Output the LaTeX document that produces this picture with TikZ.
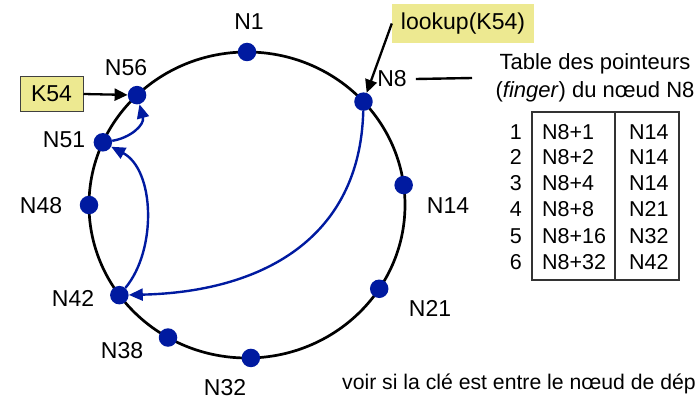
\documentclass[tikz,border=0pt]{standalone}
\usepackage{fontspec}
\setmainfont{Liberation Sans}
\usetikzlibrary{arrows.meta,calc}
\definecolor{dotblue}{RGB}{0,26,160}
\definecolor{boxyellow}{RGB}{237,233,145}
\begin{document}
\begin{tikzpicture}[x=1pt,y=-1pt,
 lab/.style={font=\fontsize{23}{27}\selectfont, inner sep=0pt},
 dot/.style={circle, fill=dotblue, minimum size=18.5pt, inner sep=0pt},
 ring/.style={line width=2.7pt},
 blk/.style={line width=2.3pt, -{Triangle[length=13pt,width=12pt]}},
 blu/.style={draw=dotblue, line width=2.4pt, -{Triangle[length=14pt,width=12pt]}},
 tab/.style={font=\fontsize{21.5}{25}\selectfont, inner sep=0pt},
 ybox/.style={fill=boxyellow, font=\fontsize{23}{27}\selectfont, inner ysep=0pt},
]
\useasboundingbox (0,0) rectangle (700,401);
\coordinate (C) at (247,205);
\draw[ring] (C) ellipse [x radius=158, y radius=153];
% nodes on the ring
\foreach \n/\a in {1/90, 8/42.5, 14/7.5, 21/-33.2, 32/-88.6, 38/-120, 42/-143.9, 48/180, 51/155.8, 56/134.1}
  \node[dot] (d\n) at ({247+158*cos(\a)},{205-153*sin(\a)}) {};
% labels
\node[lab] (l1)  at (249,22)  {N1};
\node[lab] (l8)  at (392,79)  {N8};
\node[lab] (l14) at (448,206) {N14};
\node[lab] (l21) at (430,308) {N21};
\node[lab] (l32) at (225,388) {N32};
\node[lab] (l38) at (122,351) {N38};
\node[lab] (l42) at (73,298)  {N42};
\node[lab] (l48) at (41,206)  {N48};
\node[lab] (l51) at (64,140)  {N51};
\node[lab] (l56) at (126,68)  {N56};
% boxes
\node[ybox, minimum height=39pt, minimum width=142pt, inner xsep=0pt] (look) at (463,23.5) {lookup(K54)};
\node[ybox, draw=black!75, line width=1pt, minimum height=34pt, minimum width=63pt, inner xsep=0pt] (k54) at (51.5,94) {K54};
\draw[blk] (look.west) -- (d8);
\draw[blk] (k54.east) -- (d56);
% finger routing
\draw[blu] (d8) .. controls (360,240) and (260,292) .. (d42);
\draw[blu] (d42) .. controls (157,250) and (155,170) .. (d51);
\draw[blu] (d51) .. controls (130,138) and (145,125) .. (d56);
% table title
\node[font=\fontsize{22}{28}\selectfont, align=center, inner sep=0pt] (title) at (595,78)
  {Table des pointeurs\\(\textit{finger}) du nœud N8};
\coordinate (ls) at ($(l8.east)+(9,0)$);
\coordinate (le) at (472,78);
\draw[line width=2.4pt] (ls) -- (le);
% table
\draw[line width=1.2pt, draw=black!80] (532,112) coordinate (tl) rectangle (679,280) coordinate (br);
\coordinate (ct) at (615,112);
\coordinate (cb) at (615,280);
\draw[line width=1.2pt, draw=black!80] (ct) -- (cb);
\foreach \i/\y/\a/\b in {1/132/N8+1/N14, 2/157/N8+2/N14, 3/183/N8+4/N14, 4/209/N8+8/N21, 5/236/N8+16/N32, 6/262/N8+32/N42}{
  \node[tab, anchor=east] (r\i) at (522,\y) {\i};
  \node[tab, anchor=west] (a\i) at (542,\y) {\a};
  \node[tab, anchor=west] (b\i) at (629,\y) {\b};
}
% bottom note
\node[font=\fontsize{21.2}{25}\selectfont, anchor=base west, inner sep=0pt] (note) at (342,389)
  {voir si la clé est entre le nœud de dép};
\end{tikzpicture}
\end{document}
